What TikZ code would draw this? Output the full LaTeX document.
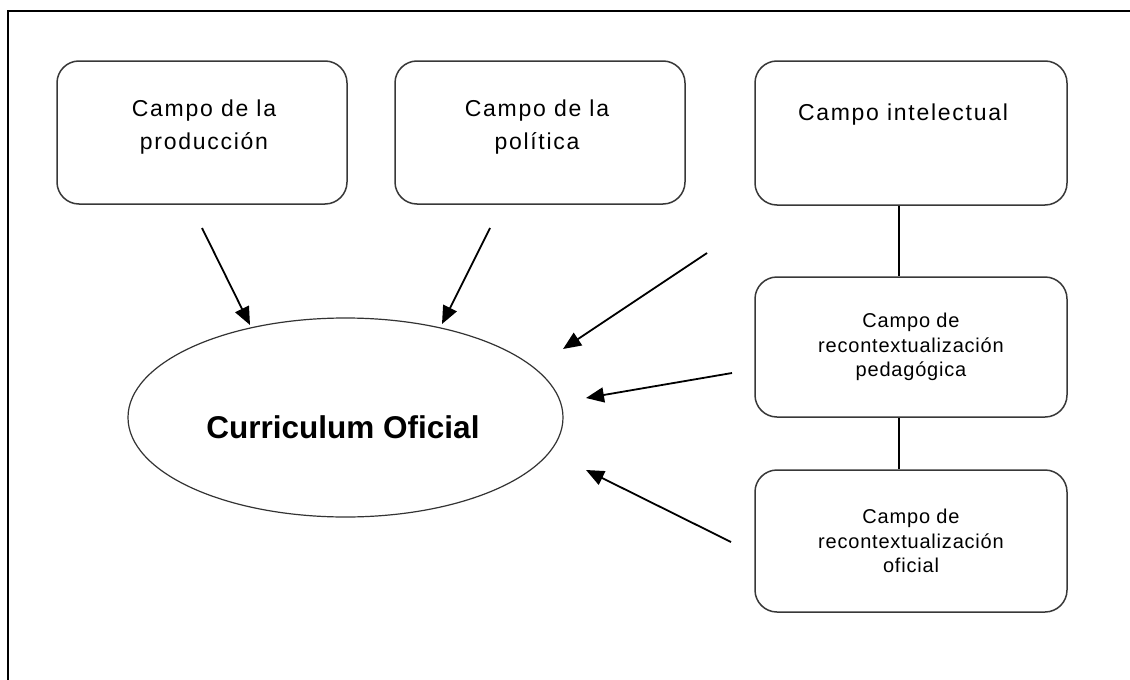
\documentclass[tikz,border=0pt]{standalone}
\usepackage{fontspec}
\setmainfont{Liberation Sans}
\usetikzlibrary{shapes.geometric,arrows.meta}

\begin{document}
\begin{tikzpicture}[x=1pt,y=-1pt,
  field/.style={draw=black!78, line width=1.5pt, rounded corners=22pt,
    inner sep=0pt, align=center},
  bigfield/.style={field, minimum width=290pt, minimum height=143pt},
  widefield/.style={field, minimum width=312pt, minimum height=142pt,
    font=\fontsize{20}{24.5}\selectfont\addfontfeatures{LetterSpace=4}},
  fieldtext/.style={inner sep=0pt, align=center,
    font=\fontsize{23}{33}\selectfont\addfontfeatures{LetterSpace=7.5}},
  flow/.style={draw=black, line width=1.8pt,
    -{Triangle[length=18pt,width=15pt]}},
  link/.style={draw=black, line width=1.4pt},
]
\useasboundingbox (0,0) rectangle (1130,680);
\fill[white] (0,0) rectangle (1130,680);

% frame (only its left and top edges lie inside the page)
\draw[line width=2pt, black] (8,690) -- (8,11) -- (1140,11);

% upper fields
\node[bigfield] (prod) at (202,132.5) {};
\node[fieldtext] (prodtxt) at (204,127.5) {Campo de la\\producción};
\node[bigfield] (pol) at (540,132.5) {};
\node[fieldtext] (poltxt) at (537,127.5) {Campo de la\\política};
\node[field, minimum width=312pt, minimum height=144pt] (int) at (911,133) {};
\node[fieldtext, anchor=base] (inttxt) at (903,120) {Campo intelectual};

% recontextualisation fields
\node[widefield, minimum height=140pt] (ped) at (911,347)
  {Campo de\\recontextualización\\pedagógica};
\node[widefield] (ofi) at (911,541)
  {Campo de\\recontextualización\\oficial};

% official curriculum
\node[ellipse, draw=black!80, line width=1.2pt, minimum width=435pt,
  minimum height=199pt, inner sep=0pt] (cur) at (345.5,417.5) {};
\node[anchor=base, inner sep=0pt, font=\fontsize{31.5}{36}\selectfont\bfseries]
  (curtxt) at (343,438) {Curriculum Oficial};

% vertical links between the right-hand fields
\coordinate (col) at (899,0);
\draw[link] (int.south -| col) -- (ped.north -| col);
\draw[link] (ped.south -| col) -- (ofi.north -| col);

% arrows into the curriculum
\coordinate (a1s) at (202,228); \coordinate (a1e) at (250,325);
\coordinate (a2s) at (490,228); \coordinate (a2e) at (442,324);
\coordinate (a3s) at (707,253); \coordinate (a3e) at (563,349);
\coordinate (a4s) at (732,373); \coordinate (a4e) at (586,398);
\coordinate (a5s) at (731,542); \coordinate (a5e) at (586,470);
\draw[flow] (a1s) -- (a1e);
\draw[flow] (a2s) -- (a2e);
\draw[flow] (a3s) -- (a3e);
\draw[flow] (a4s) -- (a4e);
\draw[flow] (a5s) -- (a5e);
\end{tikzpicture}
\end{document}
